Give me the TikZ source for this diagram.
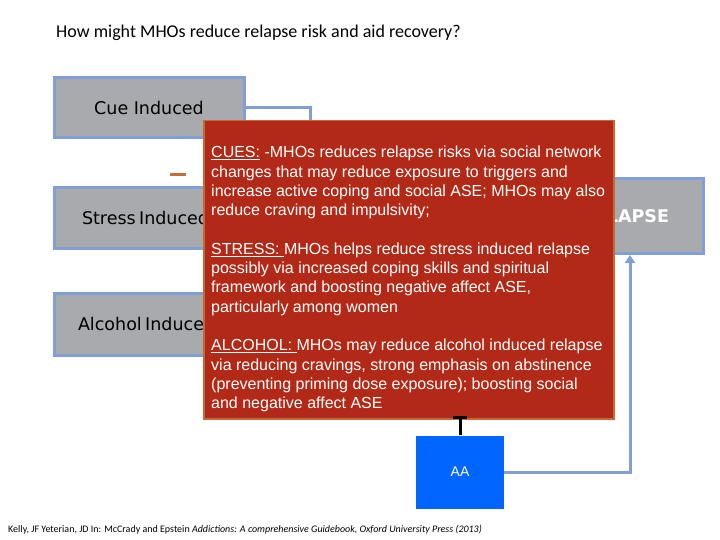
\documentclass[tikz,border=0pt]{standalone}
\usepackage{fontspec}
\setmainfont{Liberation Sans}
\newfontfamily\calib{Carlito}
\newfontfamily\boxfont{DejaVu Sans}
\usetikzlibrary{arrows.meta}
\definecolor{boxgray}{RGB}{168,170,174}
\definecolor{boxblue}{RGB}{127,159,214}
\definecolor{redfill}{RGB}{178,42,23}
\definecolor{redline}{RGB}{196,106,56}
\definecolor{aablue}{RGB}{0,102,255}
\definecolor{dashor}{RGB}{192,112,64}
\tikzset{
  graybox/.style={draw=boxblue, line width=3pt, fill=boxgray, inner sep=0pt},
  conn/.style={draw=boxblue, line width=3pt},
}
\begin{document}
\begin{tikzpicture}[x=1pt,y=-1pt]
\useasboundingbox (0,0) rectangle (720,540);
% title
\node[anchor=west, inner sep=0pt] (title) at (56,33) {\calib\fontsize{18}{21}\selectfont How might MHOs reduce relapse risk and aid recovery?};
% left boxes
\node[graybox, minimum width=190pt, minimum height=60pt] (cue) at (149,108) {\boxfont\fontsize{17.5}{20}\selectfont Cue Induced};
\node[graybox, minimum width=190pt, minimum height=60pt, text width=186pt, align=left] (stress) at (149,218) {\boxfont\fontsize{17.5}{20}\selectfont\hspace*{26pt}Stress Induced};
\node[graybox, minimum width=190pt, minimum height=62pt, text width=186pt, align=left] (alcohol) at (149,324) {\boxfont\fontsize{17.5}{20}\selectfont\hspace*{22pt}Alcohol Induced};
% relapse box
\node[graybox, minimum width=146pt, minimum height=75pt] (relapse) at (630,216) {\boxfont\bfseries\fontsize{17.5}{20}\selectfont\color{white}\hspace*{-9.5pt}RELAPSE};
% orange dash
\draw[dashor, line width=3pt] (170,175) -- (186,175);
% cue connector
\coordinate (cuebend) at (310,108);
\coordinate (cueend) at (310,150);
\draw[conn] (cue.east) -- (cuebend) -- (cueend);
% AA box
\node[fill=aablue, minimum width=88pt, minimum height=73pt, inner sep=0pt] (aa) at (460,472) {\fontsize{14}{16}\selectfont\color{white}AA};
\draw[conn, -{Triangle[width=10pt,length=8pt]}] (aa.east) -| (relapse.south);
% red box
\node[draw=redline, line width=1.5pt, fill=redfill, minimum width=410pt, minimum height=298pt, anchor=north west, inner sep=0pt] (note) at (203,120) {};
\node[anchor=north west, inner sep=0pt, align=left, text=white, font=\fontsize{16}{19.3}\selectfont] (notetext) at (211,146) {%
\underline{CUES:} -MHOs reduces relapse risks via social network\\
changes that may reduce exposure to triggers and\\
increase active coping and social ASE; MHOs may also\\
reduce craving and impulsivity;\\[19.3pt]
\underline{STRESS: }MHOs helps reduce stress induced relapse\\
possibly via increased coping skills and spiritual\\
framework and boosting negative affect ASE,\\
particularly among women\\[19.3pt]
\underline{ALCOHOL: }MHOs may reduce alcohol induced relapse\\
via reducing cravings, strong emphasis on abstinence\\
(preventing priming dose exposure); boosting social\\
and negative affect ASE};
% T-bar inhibitor
\draw[black, line width=3pt, -{Bar[width=14pt,line width=3pt]}] (aa.north) -- ([yshift=4pt]note.south -| aa.north);
% footer
\node[anchor=west, inner sep=0pt] (footer) at (8,530) {\calib\fontsize{10}{12}\selectfont Kelly, JF Yeterian, JD In: McCrady and Epstein \textit{Addictions: A comprehensive Guidebook, Oxford University Press (2013)}};
\end{tikzpicture}
\end{document}
